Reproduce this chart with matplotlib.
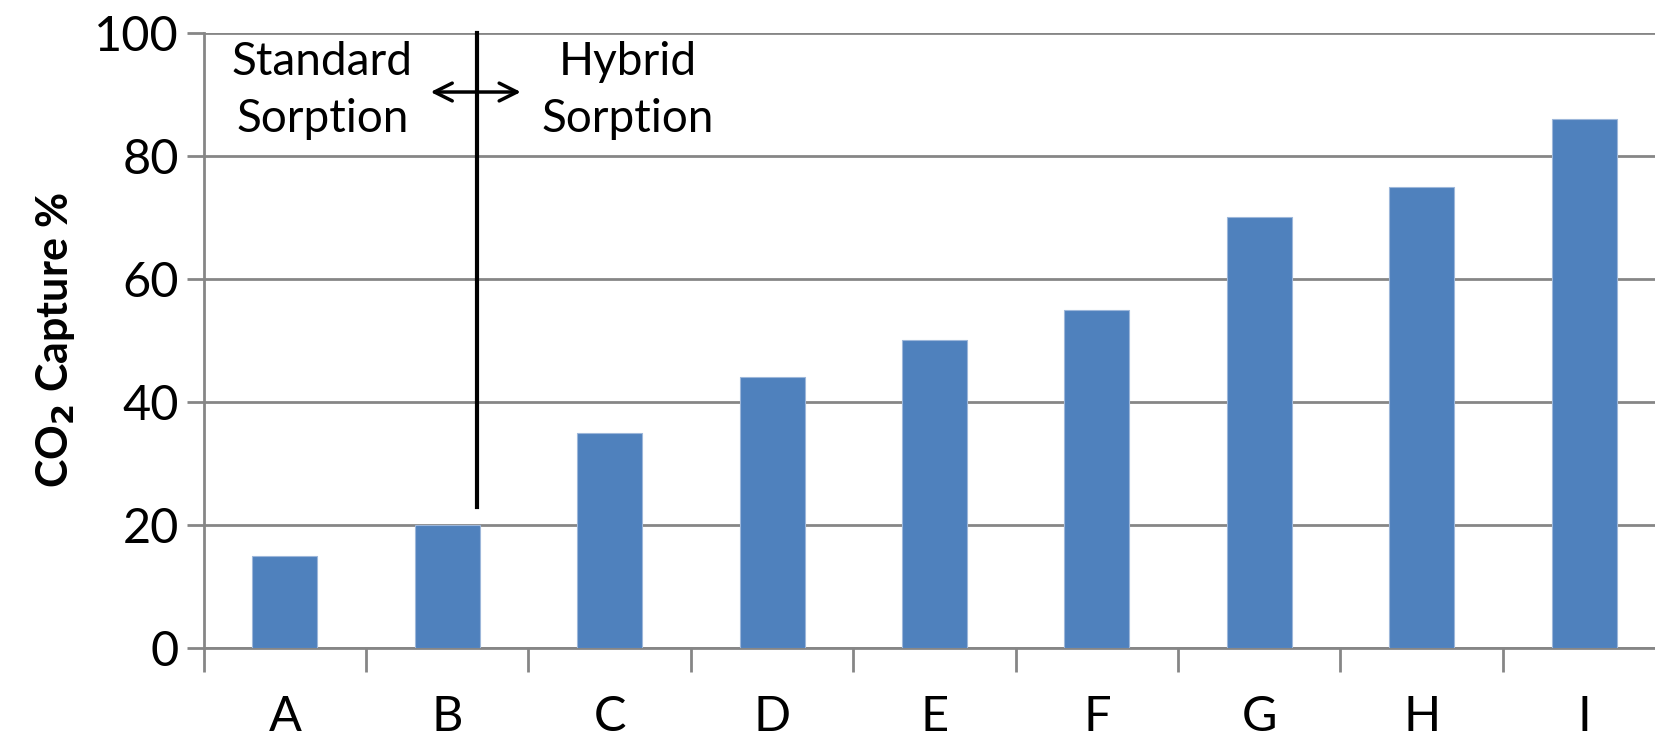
import matplotlib.pyplot as plt
import numpy as np

# =========================
# Data
# =========================
categories = ["A", "B", "C", "D", "E", "F", "G", "H", "I"]
capture = [15, 20, 35, 44, 50, 55, 70, 75, 86]
y_ticks = [0, 20, 40, 60, 80, 100]

BAR_COLOR = "#4F81BD"
GRID_COLOR = "#868686"

plt.rcParams["font.family"] = ["Lato", "DejaVu Sans"]

fig = plt.figure(figsize=(16.56, 7.36), dpi=100)
ax = fig.add_axes([0.123, 0.1196, 0.8826, 0.8356])

x = np.arange(len(categories))
ax.bar(x, capture, width=0.4, color=BAR_COLOR, edgecolor="#9DB7DA", linewidth=0.8, zorder=3)

ax.set_xlim(-0.5, len(categories) - 0.5)
ax.set_ylim(0, 100)
ax.set_yticks(y_ticks)
ax.set_yticklabels([str(v) for v in y_ticks], fontsize=35)
ax.yaxis.grid(True, color=GRID_COLOR, linewidth=2, zorder=0)
ax.set_axisbelow(True)

# category labels between boundary ticks
ax.set_xticks(np.arange(len(categories) + 1) - 0.5)
ax.set_xticklabels([])
ax.set_xticks(x, minor=True)
ax.set_xticklabels(categories, minor=True, fontsize=35)
ax.tick_params(axis="x", which="major", length=17, width=2, color=GRID_COLOR, direction="out")
ax.tick_params(axis="x", which="minor", length=0, pad=34)
ax.tick_params(axis="y", length=12, width=2, color=GRID_COLOR, pad=6)

for side in ["top", "right"]:
    ax.spines[side].set_visible(False)
for side in ["left", "bottom"]:
    ax.spines[side].set_color(GRID_COLOR)
    ax.spines[side].set_linewidth(2)

ax.set_ylabel("CO$_\\mathbf{2}$ Capture %", fontsize=31, fontweight="bold", labelpad=12)

# =========================
# Standard / Hybrid divider
# =========================
ax.plot([1.18, 1.18], [23, 100], color="black", linewidth=3, zorder=4, clip_on=False)
ax.annotate("", xy=(0.88, 90.4), xytext=(1.47, 90.4),
            arrowprops=dict(arrowstyle="<->", color="black", lw=2.5, mutation_scale=32), zorder=4)
ax.text(0.23, 90.6, "Standard\nSorption", ha="center", va="center", fontsize=33, linespacing=1.45)
ax.text(2.11, 90.6, "Hybrid\nSorption", ha="center", va="center", fontsize=33, linespacing=1.45)

fig.savefig("out.png", dpi=100)
